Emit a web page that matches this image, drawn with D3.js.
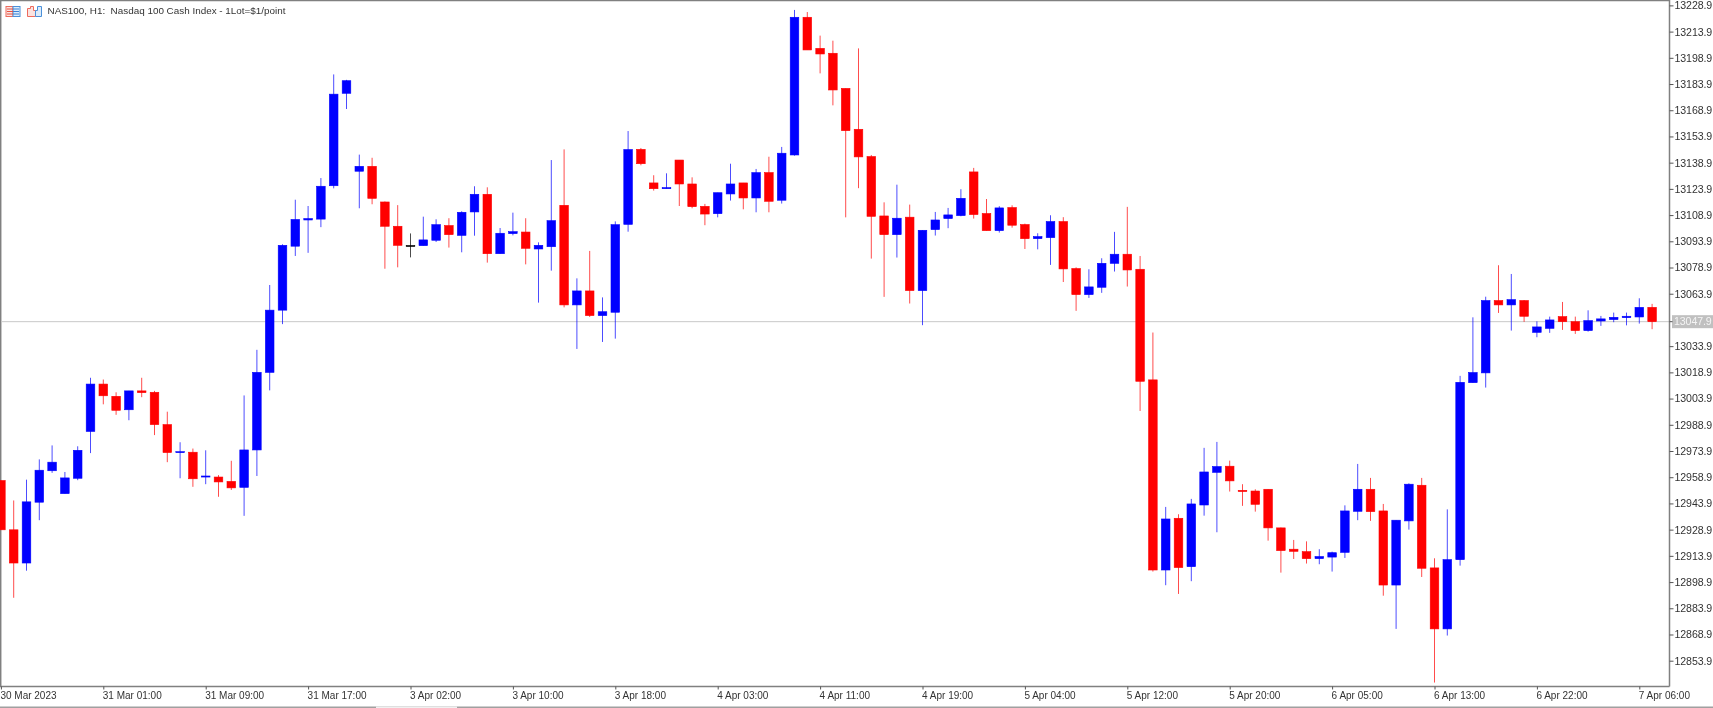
<!DOCTYPE html>
<html>
<head>
<meta charset="utf-8">
<script src="https://cdn.jsdelivr.net/npm/d3@7"></script>
<style>
html,body{margin:0;padding:0;background:#fff;overflow:hidden}
svg{display:block;filter:blur(0.35px)}
text{font-family:"Liberation Sans",Arial,sans-serif;fill:#333}
</style>
</head>
<body>
<div id="chart"></div>
<script>
const title = "NAS100, H1:  Nasdaq 100 Cash Index - 1Lot=$1/point";
const lastPrice = 13047.9;
const priceTicks = [13228.9,13213.9,13198.9,13183.9,13168.9,13153.9,13138.9,13123.9,13108.9,13093.9,13078.9,13063.9,13033.9,13018.9,13003.9,12988.9,12973.9,12958.9,12943.9,12928.9,12913.9,12898.9,12883.9,12868.9,12853.9];
const timeLabels = ["30 Mar 2023","31 Mar 01:00","31 Mar 09:00","31 Mar 17:00","3 Apr 02:00","3 Apr 10:00","3 Apr 18:00","4 Apr 03:00","4 Apr 11:00","4 Apr 19:00","5 Apr 04:00","5 Apr 12:00","5 Apr 20:00","6 Apr 05:00","6 Apr 13:00","6 Apr 22:00","7 Apr 06:00"];
const opens = [12957.0,12928.8,12909.8,12944.6,12962.6,12949.5,12958.3,12985.1,13012.2,13005.2,
12997.5,13008.3,13007.5,12989.0,12973.0,12973.2,12959.0,12959.0,12956.5,12953.1,
12974.5,13018.9,13054.5,13091.1,13106.1,13106.6,13125.7,13178.6,13134.0,13136.8,
13116.4,13102.5,13091.5,13091.4,13094.5,13102.9,13097.3,13110.7,13120.8,13086.8,
13098.3,13099.2,13089.5,13090.8,13114.5,13057.5,13065.5,13051.4,13053.3,13103.6,
13146.5,13127.3,13124.0,13140.4,13126.7,13113.9,13109.7,13121.0,13127.3,13118.7,
13133.2,13117.4,13143.3,13222.1,13204.3,13201.5,13181.4,13158.0,13142.4,13108.4,
13097.7,13107.7,13065.7,13100.6,13106.9,13108.6,13133.6,13109.8,13100.0,13113.2,
13103.5,13095.4,13096.0,13105.2,13078.3,13063.4,13067.6,13081.3,13086.5,13077.9,
13014.6,12905.8,12935.4,12907.7,12943.0,12961.7,12965.2,12951.4,12951.0,12952.0,
12929.9,12917.7,12916.3,12912.3,12913.2,12915.9,12939.4,12952.0,12939.6,12897.2,
12933.9,12954.3,12907.0,12872.1,12911.7,13013.0,13018.6,13060.0,13057.5,13060.0,
13041.8,13044.1,13050.8,13047.9,13042.8,13048.3,13049.1,13050.2,13050.6,13056.1];
const closes = [12928.8,12909.8,12944.8,12962.9,12967.5,12958.5,12974.3,13012.2,13005.5,12997.2,
13008.3,13007.3,12989.0,12973.0,12973.5,12958.0,12959.6,12956.2,12952.8,12974.5,
13018.9,13054.5,13091.6,13106.4,13106.9,13125.4,13178.1,13185.8,13136.8,13118.5,
13102.5,13091.6,13091.5,13094.7,13103.4,13097.7,13110.5,13120.8,13086.8,13098.5,
13099.4,13089.9,13091.6,13105.7,13057.5,13065.5,13051.4,13053.6,13103.4,13146.4,
13138.3,13124.0,13124.6,13126.7,13113.7,13109.5,13121.7,13126.7,13118.7,13133.2,
13116.8,13144.3,13222.1,13203.4,13201.1,13180.5,13157.2,13142.2,13108.2,13097.7,
13107.1,13065.7,13100.2,13106.1,13109.0,13118.5,13109.2,13100.0,13113.0,13103.1,
13095.4,13096.6,13105.2,13078.1,13063.4,13067.8,13081.3,13086.5,13077.5,13013.8,
12905.8,12935.0,12907.2,12943.6,12961.9,12965.0,12956.8,12950.7,12943.4,12929.9,
12916.9,12916.5,12912.3,12913.5,12915.7,12939.6,12952.0,12939.2,12897.2,12934.3,
12954.9,12906.8,12872.1,12911.7,13013.2,13018.8,13060.0,13057.5,13060.5,13051.0,
13044.9,13048.9,13047.9,13042.8,13048.5,13049.5,13050.4,13051.0,13056.1,13047.9];
const highs = [12957.0,12945.6,12957.5,12969.1,12977.1,12961.9,12976.6,13015.8,13014.8,13007.5,
13008.3,13015.8,13008.3,12996.4,12978.9,12975.3,12974.3,12960.1,12968.3,13005.7,
13031.8,13068.9,13092.2,13117.7,13114.1,13130.1,13189.4,13186.3,13143.5,13141.7,
13116.7,13114.6,13098.4,13108.0,13106.5,13107.1,13111.1,13125.4,13124.8,13101.5,
13110.3,13107.1,13093.3,13140.4,13146.5,13072.7,13088.4,13061.8,13105.3,13157.0,
13147.3,13131.7,13132.8,13140.4,13130.5,13115.3,13121.7,13138.3,13127.3,13135.3,
13142.3,13147.9,13226.3,13225.1,13211.6,13208.7,13181.4,13204.3,13143.3,13116.2,
13126.3,13114.9,13100.2,13110.7,13113.0,13123.7,13135.9,13118.1,13114.0,13114.5,
13104.0,13098.5,13108.8,13107.7,13079.0,13077.9,13084.2,13099.3,13113.6,13085.5,
13041.7,12941.9,12937.7,12946.5,12975.7,12979.1,12968.4,12954.9,12952.0,12952.0,
12930.1,12923.0,12922.2,12917.7,12916.3,12942.8,12966.5,12958.5,12943.6,12934.3,
12955.4,12958.5,12912.5,12940.5,13016.9,13050.4,13062.2,13080.2,13075.2,13060.3,
13048.1,13050.8,13059.2,13050.8,13054.4,13051.2,13053.1,13053.1,13061.3,13058.1];
const lows = [12928.8,12889.9,12905.4,12934.3,12961.4,12949.5,12957.2,12972.7,13000.6,12994.6,
12991.5,13004.7,12983.0,12967.5,12958.3,12953.4,12954.9,12947.7,12951.6,12936.8,
12959.6,13008.6,13046.5,13085.5,13087.3,13102.0,13124.2,13169.6,13112.8,13115.1,
13078.2,13079.0,13084.7,13091.4,13093.5,13090.3,13087.6,13097.1,13081.7,13086.8,
13097.3,13080.7,13058.8,13077.1,13056.1,13032.3,13050.6,13036.3,13038.2,13099.4,
13137.4,13122.9,13124.0,13114.1,13112.8,13103.1,13107.6,13117.2,13112.2,13110.5,
13110.5,13115.5,13142.9,13203.4,13190.0,13171.7,13107.6,13124.3,13084.0,13062.1,
13084.6,13058.3,13045.9,13097.2,13101.4,13108.2,13106.9,13100.0,13098.9,13101.7,
13089.5,13089.3,13080.4,13070.6,13054.1,13061.5,13064.4,13076.6,13068.0,12996.8,
12904.9,12897.1,12892.1,12899.4,12936.9,12927.4,12950.7,12942.5,12939.2,12922.6,
12904.3,12912.1,12909.5,12909.1,12904.9,12912.7,12934.3,12933.9,12891.1,12872.1,
12928.9,12901.8,12841.4,12868.3,12908.3,13013.0,13010.2,13052.9,13042.8,13047.8,
13039.0,13041.5,13043.2,13040.9,13042.2,13045.5,13047.6,13045.8,13046.8,13043.6];
const tickEvery = 8;

const W = 1713, H = 708, axisX = 1669.5, axisY = 686.5;
const svg = d3.select("#chart").append("svg").attr("width", W).attr("height", H);
const x = d3.scaleLinear().domain([0, 129]).range([0.9, 0.9 + 12.8 * 129]);
const y = d3.scaleLinear().domain([12853.9, 13093.9]).range([660.7, 241.3]);
const colorOf = i => closes[i] > opens[i] ? "#0000ff" : closes[i] < opens[i] ? "#ff0000" : "#000000";
const idx = d3.range(opens.length);

// frame
svg.append("rect").attr("x",0).attr("y",0).attr("width",W).attr("height",H).attr("fill","#fff");
const frame = "#808080";
svg.append("line").attr("x1",0).attr("x2",axisX).attr("y1",0.5).attr("y2",0.5).attr("stroke",frame).attr("stroke-width",1.5);
svg.append("line").attr("x1",0.7).attr("x2",0.7).attr("y1",0).attr("y2",axisY).attr("stroke",frame).attr("stroke-width",1.5);
svg.append("line").attr("x1",0).attr("x2",W).attr("y1",707.2).attr("y2",707.2).attr("stroke","#a0a0a0").attr("stroke-width",1.5);
svg.append("line").attr("x1",376).attr("x2",457).attr("y1",707.2).attr("y2",707.2).attr("stroke","#f0f0f0").attr("stroke-width",1.5);

// last price line
svg.append("line").attr("x1",1).attr("x2",axisX).attr("y1",y(lastPrice)).attr("y2",y(lastPrice)).attr("stroke","#c8c8c8").attr("stroke-width",1);

// candles
const g = svg.append("g");
g.selectAll("line.wick").data(idx).join("line").attr("class","wick")
  .attr("x1",i=>x(i)).attr("x2",i=>x(i))
  .attr("y1",i=>y(highs[i])).attr("y2",i=>y(lows[i]))
  .attr("stroke",colorOf).attr("stroke-width",1).attr("stroke-opacity",0.7);
g.selectAll("rect.body").data(idx).join("rect").attr("class","body")
  .attr("x",i=>x(i)-4.3).attr("width",8.6)
  .attr("y",i=>y(Math.max(opens[i],closes[i])))
  .attr("height",i=>Math.max(1,Math.abs(y(opens[i])-y(closes[i]))))
  .attr("fill",colorOf)
  .attr("stroke",colorOf).attr("stroke-width",0.6);

// axes
const yAxis = d3.axisRight(y).tickValues(priceTicks).tickSize(4).tickPadding(1).tickFormat(d3.format(".1f"));
const yG = svg.append("g").attr("transform",`translate(${axisX},0)`).call(yAxis);
yG.select(".domain").attr("d",`M0,0V${axisY}`).attr("stroke",frame).attr("stroke-width",1.5);
yG.selectAll("line").attr("stroke","#555");
yG.selectAll("text").style("font-size","10.6px").style("letter-spacing","-0.1px").attr("fill","#333");

const xAxis = d3.axisBottom(x).tickValues(timeLabels.map((_,k)=>k*tickEvery)).tickSize(3).tickPadding(2).tickFormat(d=>timeLabels[d/tickEvery]);
const xG = svg.append("g").attr("transform",`translate(0,${axisY})`).call(xAxis);
xG.select(".domain").attr("d",`M0,0H${axisX}`).attr("stroke",frame).attr("stroke-width",1.5);
xG.selectAll("line").attr("stroke","#555");
xG.selectAll("text").attr("text-anchor","start").attr("dx",-1).style("font-size","10px").attr("fill","#333");

// last price label
svg.append("rect").attr("x",1672).attr("y",y(lastPrice)-6.5).attr("width",41).attr("height",13).attr("fill","#c0c0c0");
svg.append("line").attr("x1",axisX).attr("x2",axisX+3).attr("y1",y(lastPrice)).attr("y2",y(lastPrice)).attr("stroke","#555");
svg.append("text").attr("x",1674).attr("y",y(lastPrice)+3.8).text(lastPrice.toFixed(1)).style("font-size","10.6px").style("letter-spacing","-0.1px").style("fill","#f4f4f4");

// title
svg.append("text").attr("x",47.5).attr("y",14).attr("xml:space","preserve").style("white-space","pre").style("font-size","9.9px").attr("fill","#333").text(title);

// icons
const ic = svg.append("g").attr("transform","translate(0,1)");
ic.append("rect").attr("x",6).attr("y",5.5).attr("width",7).attr("height",10).attr("fill","#fbe3e0").attr("stroke","#ee6a5c");
ic.append("rect").attr("x",13).attr("y",5.5).attr("width",7).attr("height",10).attr("fill","#dcebfa").attr("stroke","#4a90d9");
[8,10.5,13].forEach(v=>{
  ic.append("line").attr("x1",7).attr("x2",13).attr("y1",v).attr("y2",v).attr("stroke","#e8503f");
  ic.append("line").attr("x1",13).attr("x2",19).attr("y1",v).attr("y2",v).attr("stroke","#3b82d6");
});
ic.append("path").attr("d","M27.5,7.5h3v-2h3v4h2v6h-8z").attr("fill","#fbe3e0").attr("stroke","#ee6a5c");
ic.append("path").attr("d","M35.5,9.5h2v-4h4v10h-6z").attr("fill","#dcebfa").attr("stroke","#4a90d9");
</script>
</body>
</html>
